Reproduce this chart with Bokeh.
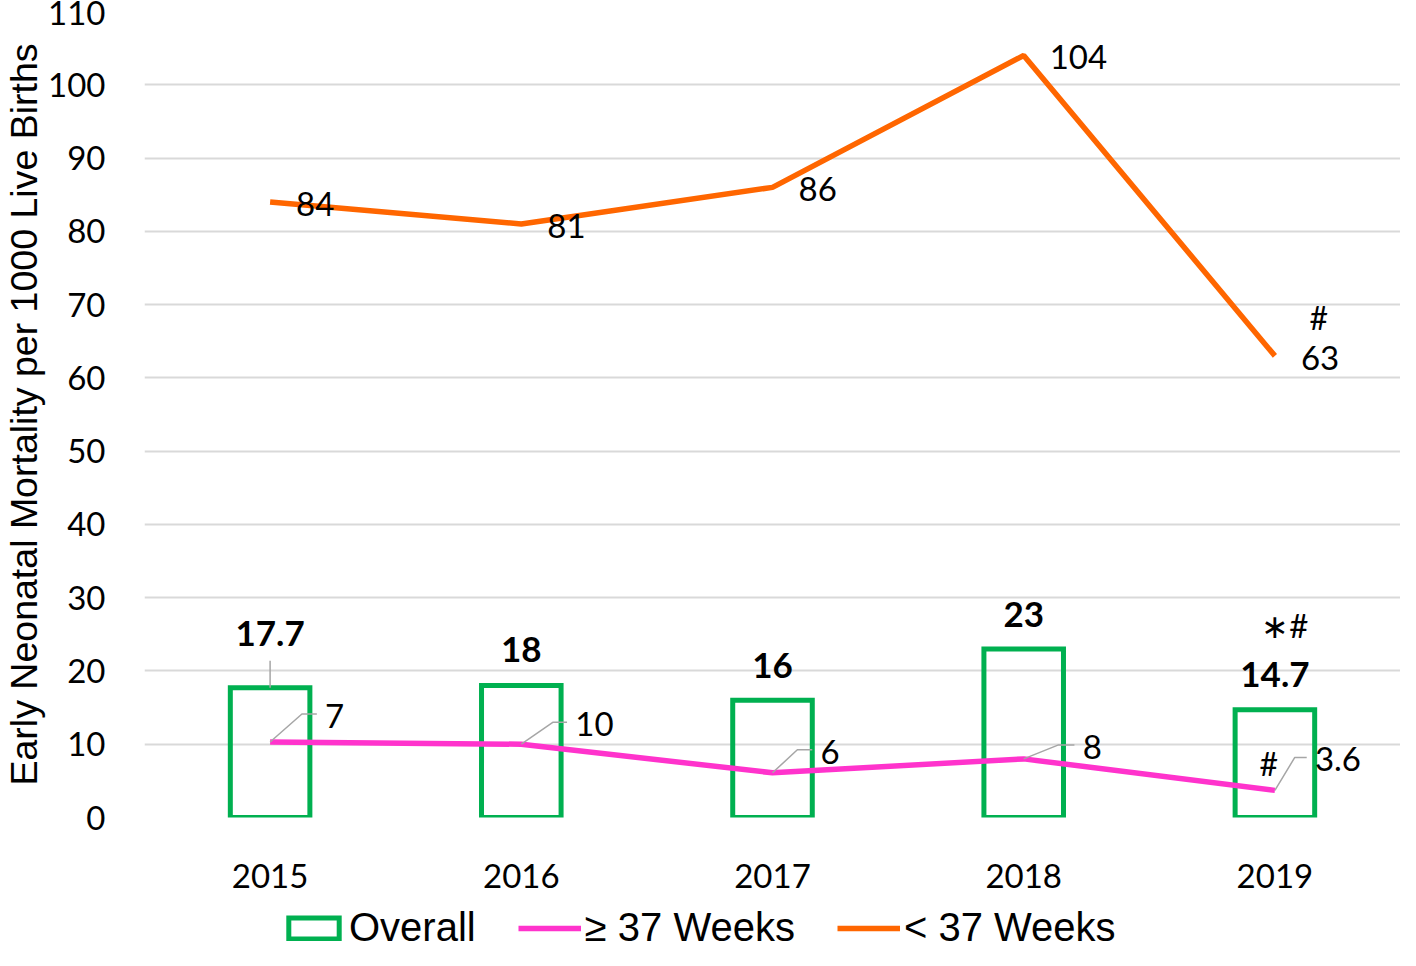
from bokeh.plotting import figure
from bokeh.layouts import column
from bokeh.models import Range1d, FixedTicker, ColumnDataSource, Legend, LegendItem
from bokeh.core.properties import value
from bokeh.embed import file_html
from bokeh.resources import INLINE

# ---------------- data ----------------
years = ["2015", "2016", "2017", "2018", "2019"]
overall = [17.7, 18, 16, 23, 14.7]
overall_labels = ["17.7", "18", "16", "23", "14.7"]
term_ge37 = [10.3, 10.0, 6.1, 8.0, 3.7]
term_ge37_labels = ["7", "10", "6", "8", "3.6"]
preterm_lt37 = [84, 81, 86, 104, 63]
preterm_lt37_labels = ["84", "81", "86", "104", "63"]
series_names = ["Overall", "≥ 37 Weeks", "< 37 Weeks"]
y_ticks = list(range(0, 111, 10))

# ---------------- layout constants ----------------
W, H = 1400, 902
LEG_H = 48
ML, MR, MT, MB = 137, 0, 11, 85
FW = W - ML - MR
FH = H - MT - MB
PX_X = len(years) / FW
PX_Y = 110 / FH

GREEN = "#00B050"
PINK = "#FF33CC"
ORANGE = "#FF6600"
GRAY = "#A6A6A6"

xs = [i + 0.5 for i in range(len(years))]

LABEL_FONT = "Lato"
ARIAL = "Liberation Sans"

p = figure(width=W, height=H, x_range=Range1d(0, len(years)), y_range=Range1d(0, 110),
           output_backend="svg", toolbar_location=None,
           min_border_left=ML, min_border_right=MR, min_border_top=MT, min_border_bottom=MB)
p.outline_line_color = None
p.background_fill_color = "white"
p.border_fill_color = "white"
p.xgrid.visible = False
p.ygrid.grid_line_color = "#D9D9D9"
p.ygrid.grid_line_width = 2
p.ygrid.ticker = FixedTicker(ticks=y_ticks)

p.yaxis.ticker = FixedTicker(ticks=y_ticks)
p.xaxis.ticker = FixedTicker(ticks=xs)
p.xaxis.major_label_overrides = {x: y for x, y in zip(xs, years)}
for ax in (p.xaxis, p.yaxis):
    ax.axis_line_color = None
    ax.major_tick_line_color = None
    ax.minor_tick_line_color = None
    ax.major_tick_out = 0
    ax.major_tick_in = 0
    ax.minor_tick_out = 0
    ax.major_label_text_font = LABEL_FONT
    ax.major_label_text_font_size = "33px"
    ax.major_label_text_color = "black"
p.yaxis.major_label_standoff = 39
p.xaxis.major_label_standoff = 46
p.yaxis.axis_label = "Early Neonatal Mortality per 1000 Live Births"
p.yaxis.axis_label_text_font = ARIAL
p.yaxis.axis_label_text_font_size = "37.5px"
p.yaxis.axis_label_text_font_style = "normal"
p.yaxis.axis_label_text_color = "black"
p.yaxis.axis_label_standoff = 0

# bars
p.vbar(x=xs, top=overall, bottom=0, width=80 * PX_X, fill_color=None,
       line_color=GREEN, line_width=5, line_join="miter")

# lines
p.line(xs, term_ge37, line_color=PINK, line_width=5.5)
p.line(xs, preterm_lt37, line_color=ORANGE, line_width=5.5)

# leader lines for >=37 labels (pixel offsets)
term_elbow_dx = [32, 32, 25, 35, 20]
term_elbow_dy = [28, 22, 23, 14, 33]
term_end_dx = [47, 46, 40, 51, 32]
lx, ly = [], []
for x, y, ex, ey, en in zip(xs, term_ge37, term_elbow_dx, term_elbow_dy, term_end_dx):
    lx.append([x, x + ex * PX_X, x + en * PX_X])
    ly.append([y, y + ey * PX_Y, y + ey * PX_Y])
p.multi_line(lx, ly, line_color=GRAY, line_width=1.5)

# leader for first bar label
bar_label_dy = [54, 36, 35, 34, 35]
p.segment(x0=xs[:1], y0=overall[:1], x1=xs[:1], y1=[overall[0] + 27 * PX_Y],
          line_color=GRAY, line_width=1.5)

# labels
src_pre = ColumnDataSource(dict(x=xs, y=preterm_lt37, t=preterm_lt37_labels))
p.text(x="x", y="y", text="t", source=src_pre, x_offset=26, y_offset=2,
       text_align="left", text_baseline="middle", text_font=value(LABEL_FONT),
       text_font_size="33px", text_color="black")

src_term = ColumnDataSource(dict(x=xs, y=term_ge37, t=term_ge37_labels,
                                 xo=[d + 8 for d in term_end_dx],
                                 yo=[-d + 2 for d in term_elbow_dy]))
p.text(x="x", y="y", text="t", source=src_term, x_offset="xo", y_offset="yo",
       text_align="left", text_baseline="middle", text_font=value(LABEL_FONT),
       text_font_size="33px", text_color="black")

src_bar = ColumnDataSource(dict(x=xs, y=overall, t=overall_labels,
                                yo=[-d for d in bar_label_dy]))
p.text(x="x", y="y", text="t", source=src_bar, y_offset="yo",
       text_align="center", text_baseline="middle", text_font=value(LABEL_FONT),
       text_font_size="35px", text_font_style="bold", text_color="black")

# significance marks
p.text(x=[xs[4]], y=[overall[4]], text=["∗#"], x_offset=10, y_offset=-85,
       text_align="center", text_baseline="middle", text_font=value(LABEL_FONT),
       text_font_size="33px", text_color="black")
p.text(x=[xs[4]], y=[preterm_lt37[4]], text=["#"], x_offset=44, y_offset=-38,
       text_align="center", text_baseline="middle", text_font=value(LABEL_FONT),
       text_font_size="32px", text_color="black")
p.text(x=[xs[4]], y=[term_ge37[4]], text=["#"], x_offset=-6, y_offset=-27,
       text_align="center", text_baseline="middle", text_font=value(LABEL_FONT),
       text_font_size="32px", text_color="black")

# ---------------- legend strip ----------------
NAN = float("nan")
q = figure(width=W, height=LEG_H, x_range=Range1d(0, 1), y_range=Range1d(0, 1),
           output_backend="svg", toolbar_location=None,
           x_axis_location=None, y_axis_location=None,
           min_border_left=0, min_border_right=0, min_border_top=0, min_border_bottom=0)
q.outline_line_color = None
q.xgrid.visible = False
q.ygrid.visible = False
r_bar = q.vbar(x=[NAN], top=[NAN], width=0.1, fill_color=None, line_color=GREEN,
               line_width=5, line_join="miter")
r_term = q.line(x=[NAN], y=[NAN], line_color=PINK, line_width=5.5)
r_pre = q.line(x=[NAN], y=[NAN], line_color=ORANGE, line_width=5.5)

legend = Legend(items=[LegendItem(label=series_names[0], renderers=[r_bar]),
                       LegendItem(label=series_names[1], renderers=[r_term]),
                       LegendItem(label=series_names[2], renderers=[r_pre])],
                orientation="horizontal", location=(138, 0))
legend.padding = 0
legend.margin = 0
legend.spacing = 42
legend.label_standoff = 4
legend.glyph_width = 63
legend.glyph_height = 26
legend.label_text_font = ARIAL
legend.label_text_font_size = "40px"
legend.label_text_line_height = 0.8
legend.label_text_color = "black"
legend.border_line_color = None
legend.background_fill_alpha = 0
q.add_layout(legend, "center")

open("out.html", "w").write(file_html(column(p, q, spacing=0), INLINE))
